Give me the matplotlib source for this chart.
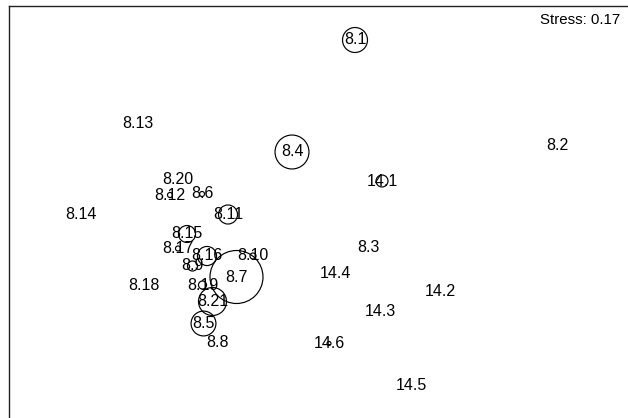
import numpy as np
import matplotlib
matplotlib.use("Agg")
import matplotlib.pyplot as plt

# NMDS site scores and species abundance at each site
sites = ["8.1", "8.2", "8.3", "8.4", "8.5", "8.6", "8.7", "8.8", "8.9", "8.10",
         "8.11", "8.12", "8.13", "8.14", "8.15", "8.16", "8.17", "8.18", "8.19",
         "8.20", "8.21", "14.1", "14.2", "14.3", "14.4", "14.5", "14.6"]
nmds1 = [0.188, 0.996, 0.242, -0.064, -0.418, -0.424, -0.286, -0.362, -0.462, -0.220,
         -0.320, -0.552, -0.680, -0.908, -0.484, -0.404, -0.520, -0.656, -0.422,
         -0.522, -0.382, 0.296, 0.530, 0.290, 0.110, 0.414, 0.084]
nmds2 = [0.724, 0.304, -0.108, 0.276, -0.410, 0.108, -0.224, -0.486, -0.180, -0.140,
         0.026, 0.104, 0.392, 0.026, -0.052, -0.140, -0.110, -0.260, -0.256,
         0.168, -0.322, 0.160, -0.280, -0.360, -0.210, -0.658, -0.490]
abundance = [22.2, 0.0, 0.0, 41.0, 22.0, 0.9, 100.0, 0.0, 3.6, 1.3,
             12.9, 0.9, 0.0, 0.0, 10.3, 13.0, 0.9, 0.0, 2.3,
             0.0, 27.9, 5.1, 0.0, 0.0, 0.0, 0.0, 0.57]
stress = 0.17

W, H, DPI = 628, 418, 100
fig = plt.figure(figsize=(W / DPI, H / DPI), dpi=DPI)
ax = fig.add_axes([8.5 / W, 0.0, 1 - 8.5 / W, 1 - 5.5 / H])
ax.set_xlim(-1.198, 1.28)
ax.set_ylim(-0.788, 0.862)

font = ["Liberation Sans", "DejaVu Sans"]

# bubble diameter (pixels) grows with the square root of abundance
ab = np.asarray(abundance)
diam_px = 5.3 * np.sqrt(ab)
diam_pt = diam_px * 72.0 / DPI
mask = ab > 0
ax.scatter(np.asarray(nmds1)[mask], np.asarray(nmds2)[mask], s=diam_pt[mask] ** 2,
           facecolors="none", edgecolors="black", linewidths=0.85, zorder=2)

for lab, x, y in zip(sites, nmds1, nmds2):
    ax.text(x, y, lab, ha="center", va="center", fontsize=11.5,
            family=font, color="black", zorder=3)

ax.text(0.987, 1 - 14.5 / (H - 5.5), f"Stress: {stress:.2f}",
        transform=ax.transAxes, ha="right", va="center", fontsize=10.8,
        family=font, color="black")

ax.set_xticks([])
ax.set_yticks([])
for side in ("right", "bottom"):
    ax.spines[side].set_visible(False)
for side in ("left", "top"):
    ax.spines[side].set_color("#222222")
    ax.spines[side].set_linewidth(1.0)

fig.savefig("out.png", dpi=DPI)
